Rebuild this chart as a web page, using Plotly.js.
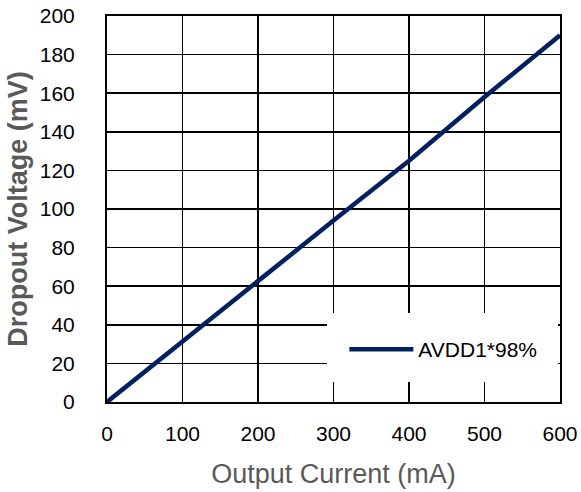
<!DOCTYPE html>
<html>
<head>
<meta charset="utf-8">
<script src="https://cdn.plot.ly/plotly-3.0.1.min.js"></script>
<style>html,body{margin:0;padding:0;background:#fff;}#chart{width:581px;height:492px;}</style>
</head>
<body>
<div id="chart"></div>
<script>
var outputCurrent = [0, 100, 200, 300, 400, 500, 600];
var dropoutVoltage = [0, 31.5, 62.5, 94, 125, 158, 190];
var seriesName = 'AVDD1*98%';
var xTicks = [0, 100, 200, 300, 400, 500, 600];
var yTicks = [0, 20, 40, 60, 80, 100, 120, 140, 160, 180, 200];

var trace = {
  x: outputCurrent,
  y: dropoutVoltage,
  type: 'scatter',
  mode: 'lines',
  name: seriesName,
  line: {color: '#002060', width: 4.5}
};

var tickFont = {family: 'Liberation Sans, Arial, sans-serif', size: 21, color: '#000000'};

var layout = {
  width: 581,
  height: 492,
  margin: {l: 107, r: 21, t: 16, b: 90, pad: 0},
  paper_bgcolor: '#ffffff',
  plot_bgcolor: '#ffffff',
  showlegend: true,
  xaxis: {
    range: [0, 600],
    tickvals: xTicks,
    ticktext: xTicks.map(String),
    showgrid: true,
    gridcolor: '#000000',
    gridwidth: 1.5,
    zeroline: false,
    showline: true,
    linecolor: '#000000',
    linewidth: 2,
    mirror: true,
    ticks: '',
    ticklabelstandoff: 12,
    tickfont: tickFont,
    automargin: false,
    title: {text: 'Output Current (mA)', font: {family: 'Liberation Sans, Arial, sans-serif', size: 27, color: '#595959'}, standoff: 20}
  },
  yaxis: {
    range: [0, 200],
    tickvals: yTicks,
    ticktext: yTicks.map(String),
    showgrid: true,
    gridcolor: '#000000',
    gridwidth: 1.5,
    zeroline: false,
    showline: true,
    linecolor: '#000000',
    linewidth: 2,
    mirror: true,
    ticks: '',
    ticklabelstandoff: 26,
    tickfont: tickFont,
    automargin: false,
    title: {text: '<b>Dropout Voltage (mV)</b>', font: {family: 'Liberation Sans, Arial, sans-serif', size: 27, color: '#595959'}, standoff: 4}
  },
  legend: {
    x: 0.524, y: 0.136, xanchor: 'left', yanchor: 'middle',
    bgcolor: 'rgba(0,0,0,0)',
    borderwidth: 0,
    font: {family: 'Liberation Sans, Arial, sans-serif', size: 21, color: '#000000'},
    itemwidth: 64
  },
  shapes: [{
    type: 'rect', xref: 'paper', yref: 'paper',
    x0: 0.4857, x1: 0.9956, y0: 0.0518, y1: 0.2306,
    fillcolor: '#ffffff', line: {width: 0}, layer: 'above'
  }]
};

Plotly.newPlot('chart', [trace], layout, {staticPlot: true, displayModeBar: false});
</script>
</body>
</html>
